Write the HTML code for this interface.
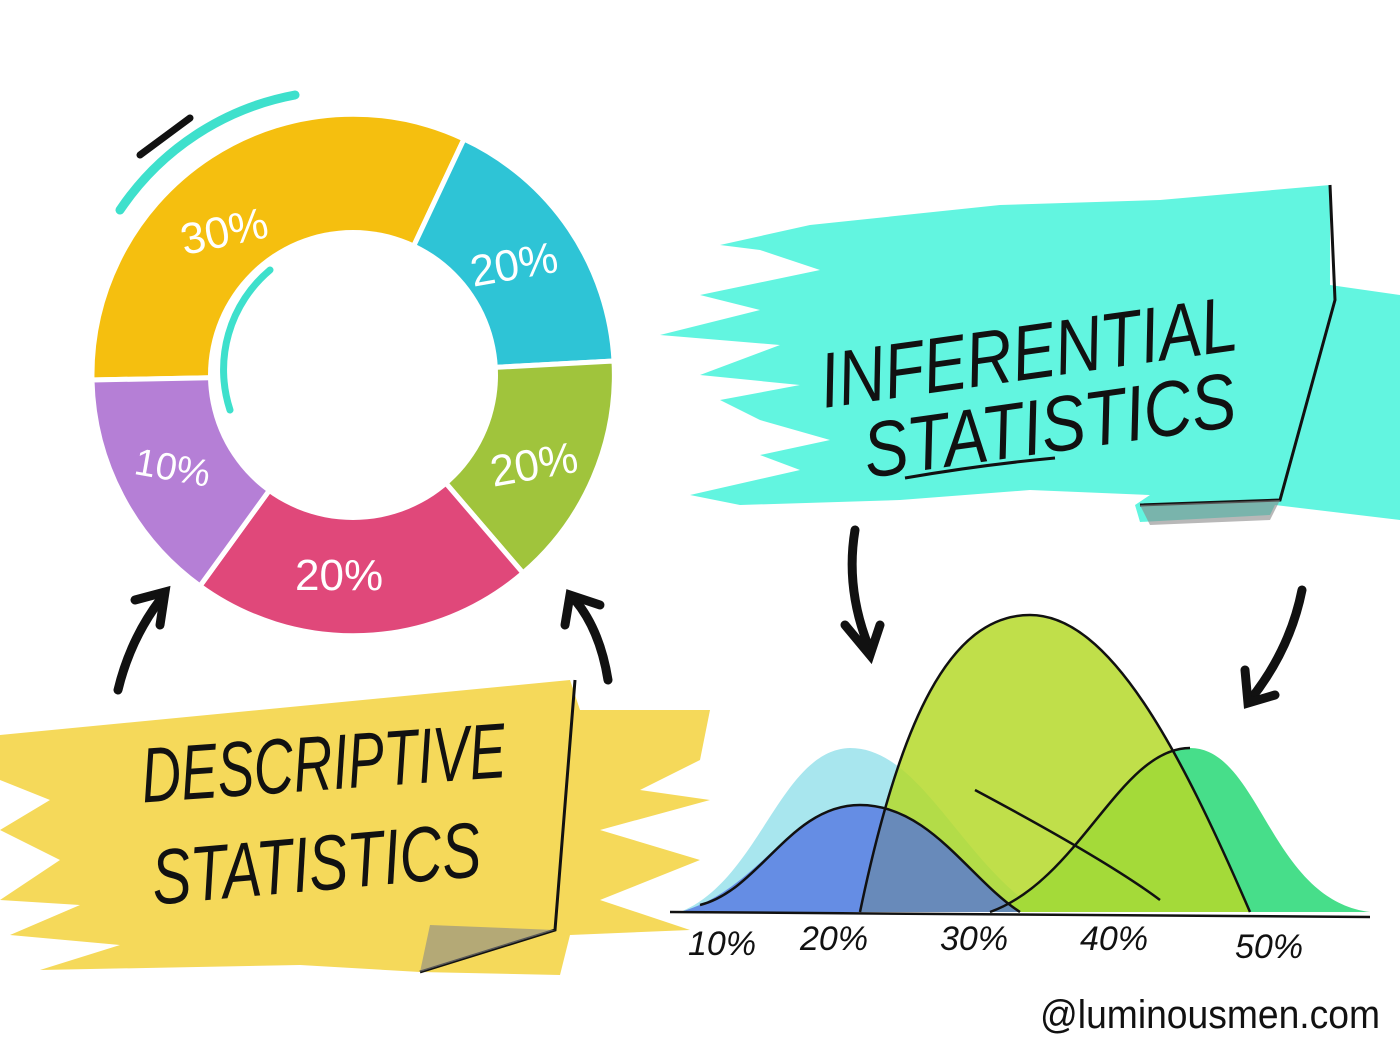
<!DOCTYPE html>
<html><head><meta charset="utf-8"><style>
html,body{margin:0;padding:0;background:#fff;}
svg{display:block}
text{font-family:"Liberation Sans",sans-serif;}
</style></head><body>
<svg width="1400" height="1049" viewBox="0 0 1400 1049" xmlns="http://www.w3.org/2000/svg">
<rect width="1400" height="1049" fill="#fff"/>
<!-- teal banner -->
<path d="M1330 285 L1400 295 L1400 520 L1275 505 L1270 515 L1140 522 L1135 505 L1150 495 L1030 490 L900 500 L740 505 L690 495 L800 470 L760 455 L830 440 L760 420 L720 400 L800 385 L700 375 L780 345 L660 335 L760 310 L700 295 L820 270 L760 250 L720 245 L810 225 L1000 205 L1160 200 L1330 185 Z" fill="#62F5E0"/>
<path d="M1330 185 L1335 300 L1280 500 L1140 505" fill="none" stroke="#111" stroke-width="3"/>
<path d="M1140 505 L1150 525 L1270 520 L1280 500 Z" fill="#888" opacity="0.6"/>
<g font-size="78" fill="#111" font-style="italic">
<text x="815" y="380" transform="rotate(-8 1020 330)" textLength="420" lengthAdjust="spacingAndGlyphs">INFERENTIAL</text>
<text x="860" y="452" transform="rotate(-8 1050 412)" textLength="375" lengthAdjust="spacingAndGlyphs">STATISTICS</text>
</g>
<path d="M905 478 Q980 465 1055 458" stroke="#111" stroke-width="3" fill="none"/>
<!-- yellow banner -->
<path d="M0 735 L570 680 L580 710 L710 710 L700 760 L640 790 L710 800 L600 830 L700 860 L600 900 L690 930 L570 935 L560 975 L420 972 L300 965 L40 970 L120 945 L10 935 L80 905 L0 900 L60 860 L0 830 L50 800 L0 780 Z" fill="#F5D95A"/>
<path d="M575 680 L555 930 L420 972" fill="none" stroke="#111" stroke-width="3"/>
<path d="M420 972 L430 925 L555 930 Z" fill="#888" opacity="0.6"/>
<g font-size="78" fill="#111" font-style="italic">
<text x="140" y="790" transform="rotate(-4 320 750)" textLength="365" lengthAdjust="spacingAndGlyphs">DESCRIPTIVE</text>
<text x="150" y="890" transform="rotate(-5 320 850)" textLength="330" lengthAdjust="spacingAndGlyphs">STATISTICS</text>
</g>
<!-- donut -->
<g stroke="#fff" stroke-width="5">
<path d="M353 375 L92 380 A261 261 0 0 1 464 139 Z" fill="#F5BF0F"/>
<path d="M353 375 L464 139 A261 261 0 0 1 614 361 Z" fill="#2EC4D6"/>
<path d="M353 375 L614 361 A261 261 0 0 1 523 573 Z" fill="#A0C43C"/>
<path d="M353 375 L523 573 A261 261 0 0 1 200 586 Z" fill="#E0487A"/>
<path d="M353 375 L200 586 A261 261 0 0 1 92 380 Z" fill="#B57FD6"/>
</g>
<circle cx="353" cy="375" r="145" fill="#fff"/>
<path d="M230 410 A130 130 0 0 1 270 270" stroke="#3EE0CC" stroke-width="7" fill="none" stroke-linecap="round"/>
<path d="M120 210 A270 270 0 0 1 295 95" stroke="#3EE0CC" stroke-width="9" fill="none" stroke-linecap="round"/>
<path d="M140 155 L190 118" stroke="#111" stroke-width="7" stroke-linecap="round"/>
<g fill="#fff" font-size="44">
<text x="180" y="245" transform="rotate(-12 230 230)">30%</text>
<text x="470" y="280" transform="rotate(-10 510 265)">20%</text>
<text x="490" y="480" transform="rotate(-10 530 465)">20%</text>
<text x="295" y="590">20%</text>
<text x="135" y="480" font-size="38" transform="rotate(10 170 465)">10%</text>
</g>
<!-- arrows -->
<g stroke="#111" stroke-width="9" fill="none" stroke-linecap="round">
<path d="M118 690 Q130 640 160 600"/><path d="M135 600 L165 592 L160 625"/>
<path d="M608 680 Q600 630 575 600"/><path d="M565 625 L570 595 L600 605"/>
<path d="M855 530 Q845 590 870 650"/><path d="M845 625 L870 655 L880 625"/>
<path d="M1302 590 Q1290 650 1250 700"/><path d="M1245 670 L1248 703 L1275 695"/>
</g>
<!-- bell curves -->
<path d="M680 912 C760 880 780 750 850 748 C920 748 960 860 1040 912 Z" fill="#A8E6EE"/>
<path d="M990 912 C1080 880 1120 748 1190 748 C1260 748 1270 900 1370 912 Z" fill="#3DDC84" opacity="0.95"/>
<path d="M860 912 C900 720 950 615 1030 615 C1110 615 1180 750 1250 912 Z" fill="#B5D92A" opacity="0.85"/>
<path d="M680 912 C760 890 790 805 860 805 C930 805 970 880 1020 912 Z" fill="#4F6FE0" opacity="0.75"/>
<g stroke="#111" stroke-width="2.5" fill="none">
<path d="M860 912 C900 720 950 615 1030 615 C1110 615 1180 750 1250 912"/>
<path d="M990 912 C1080 880 1120 748 1190 748"/>
<path d="M1020 912 C970 880 930 805 860 805 C790 805 760 890 700 905"/>
<path d="M975 790 C1050 830 1120 870 1160 900"/>
<path d="M670 912 L1370 917"/>
</g>
<g font-size="34" fill="#111" font-style="italic">
<text x="688" y="955">10%</text><text x="800" y="950">20%</text>
<text x="940" y="950">30%</text><text x="1080" y="950">40%</text><text x="1235" y="958">50%</text>
</g>
<text x="1040" y="1028" font-size="40" fill="#111" textLength="340" lengthAdjust="spacingAndGlyphs">@luminousmen.com</text>
</svg>
</body></html>
